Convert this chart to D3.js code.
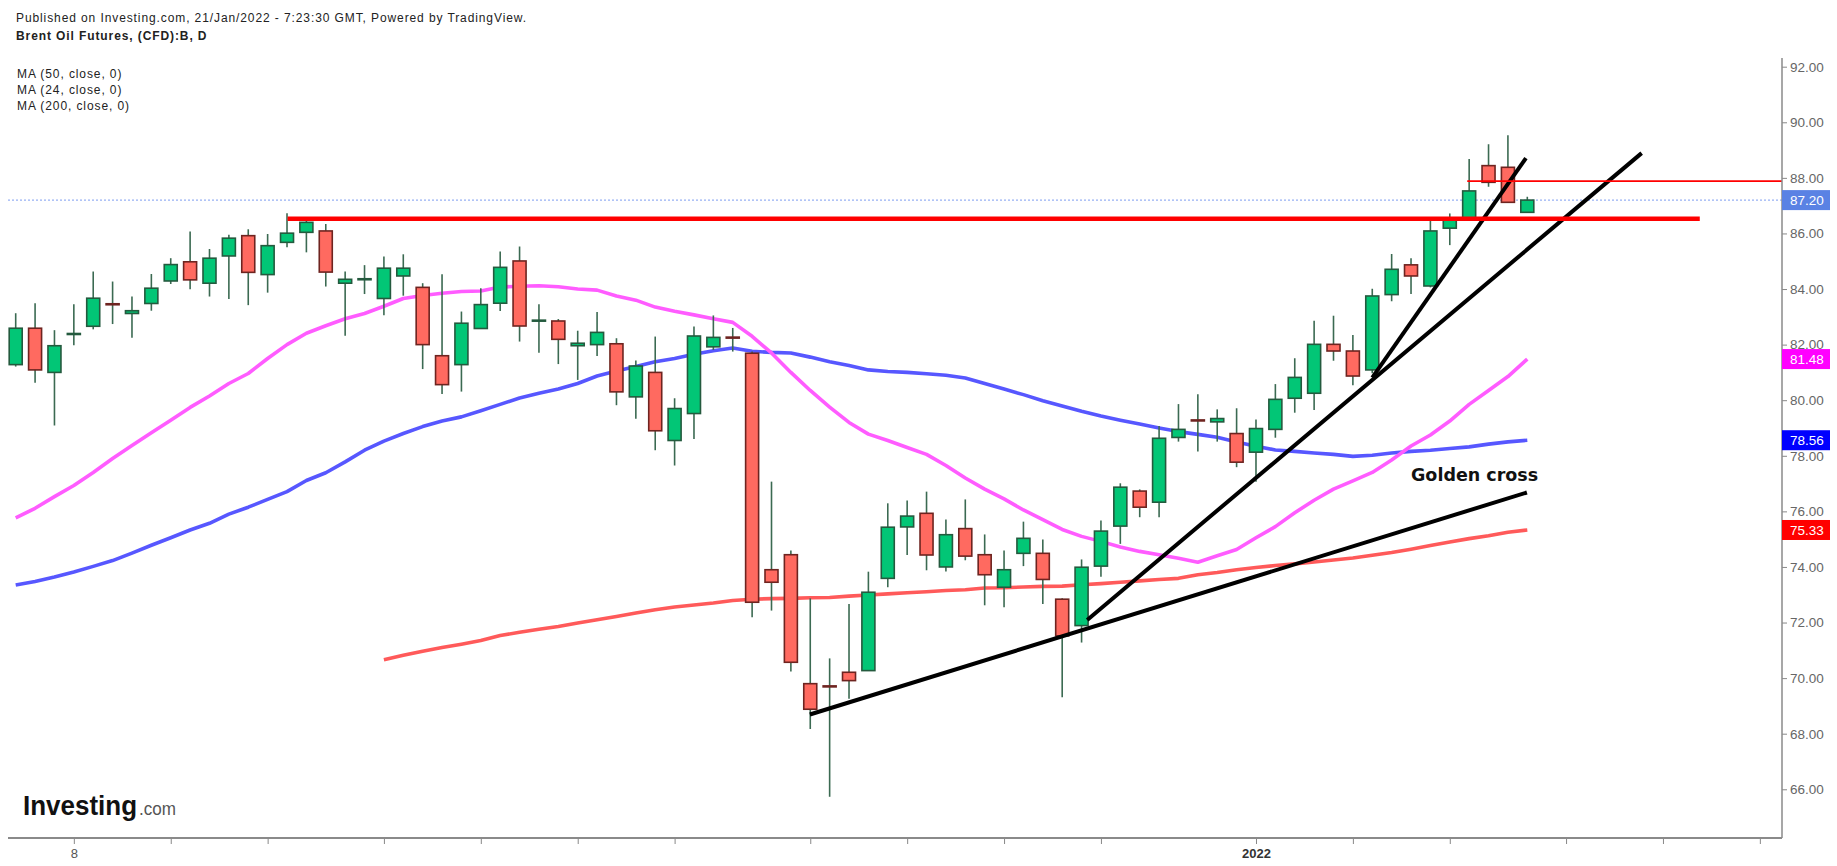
<!DOCTYPE html>
<html>
<head>
<meta charset="utf-8">
<script src="https://cdn.jsdelivr.net/npm/d3@7"></script>
<style>
  body { margin: 0; background: #fff; }
  svg { display: block; font-family: "Liberation Sans", Arial, sans-serif; }
</style>
</head>
<body>
<svg id="chart" width="1837" height="866"></svg>
<script>
// Brent Oil Futures daily candles, index 0..78
const opens = [81.28,82.59,81.00,82.38,82.66,83.47,83.12,83.48,84.29,84.98,
  84.21,85.19,85.92,84.52,85.68,86.04,86.09,84.21,84.35,83.66,
  84.47,84.06,81.60,81.28,82.58,83.49,85.01,82.86,82.85,81.96,
  82.00,82.03,80.12,81.00,78.55,79.52,81.92,82.27,81.69,73.90,
  74.44,69.80,69.72,70.21,70.27,73.59,75.44,75.93,74.00,75.38,
  74.44,73.27,74.49,74.49,72.84,71.89,74.03,75.47,76.73,76.33,
  78.66,79.29,79.22,78.80,78.13,78.95,80.07,80.25,82.01,81.77,
  81.09,83.80,84.87,84.11,86.19,86.49,88.44,88.38,86.76];
const highs = [83.13,83.49,82.52,83.45,84.63,84.27,83.73,84.54,85.11,86.07,
  85.44,85.95,86.15,85.98,86.73,86.52,86.34,84.63,84.86,85.17,
  85.25,84.21,84.53,83.19,84.03,85.35,85.53,83.45,82.92,82.50,
  83.17,82.23,81.43,82.29,80.07,82.65,83.05,82.60,81.75,77.07,
  74.59,72.87,70.71,72.67,73.83,76.29,76.39,76.71,75.71,76.43,
  75.17,74.59,75.63,74.99,72.87,74.27,75.67,77.01,76.79,79.07,
  79.86,80.21,79.67,79.71,79.31,80.58,81.51,82.86,83.04,82.35,
  84.01,85.26,85.11,86.51,86.72,88.68,89.21,89.53,87.32];
const lows = [81.21,80.63,79.09,81.98,82.55,82.74,82.25,83.22,84.18,83.99,
  83.73,83.64,83.42,83.87,85.50,85.32,84.09,82.32,83.82,83.06,
  83.76,81.12,80.22,80.31,82.56,83.21,82.11,81.71,81.30,80.73,
  81.59,79.82,79.33,78.20,77.65,78.60,81.81,81.75,72.19,72.43,
  70.24,68.17,65.73,69.26,70.27,73.27,74.43,73.88,73.84,74.24,
  72.62,72.55,74.03,72.67,69.31,71.28,73.65,74.83,75.79,75.79,
  78.51,78.15,78.51,77.59,77.07,78.65,79.55,79.65,81.42,80.54,
  80.97,83.56,83.82,84.06,85.58,86.49,87.68,87.12,86.76];
const closes = [82.59,81.09,81.96,82.40,83.67,83.44,83.22,84.03,84.88,84.33,
  85.11,85.83,84.60,85.56,86.01,86.40,84.61,84.35,84.37,84.75,
  84.75,82.00,80.56,82.77,83.44,84.78,82.67,82.88,82.19,82.05,
  82.44,80.30,81.23,78.90,79.70,82.31,82.26,82.24,72.73,73.45,
  70.57,68.88,69.69,69.91,73.09,75.43,75.83,74.43,75.16,74.39,
  73.72,73.90,75.03,73.55,71.52,73.99,75.29,76.87,76.15,78.63,
  78.95,79.27,79.34,77.77,78.98,80.03,80.82,82.01,81.77,80.87,
  83.75,84.71,84.47,86.09,86.48,87.53,87.84,87.12,87.20];

// moving averages as drawn on the chart
const ma24 = [75.77,76.11,76.53,76.93,77.40,77.90,78.37,78.83,79.28,79.74,
  80.15,80.60,80.96,81.50,82.00,82.41,82.68,82.93,83.12,83.38,
  83.66,83.77,83.85,83.91,83.93,84.07,84.10,84.12,84.08,84.00,
  83.96,83.75,83.60,83.35,83.20,83.07,82.93,82.80,82.30,81.70,
  81.00,80.35,79.75,79.20,78.78,78.55,78.30,78.05,77.65,77.20,
  76.80,76.45,76.05,75.70,75.35,75.10,74.92,74.72,74.56,74.44,
  74.31,74.17,74.40,74.63,75.05,75.45,75.95,76.40,76.80,77.10,
  77.40,77.85,78.35,78.75,79.25,79.85,80.35,80.85,81.48];
const ma50 = [73.35,73.48,73.64,73.82,74.02,74.23,74.50,74.78,75.05,75.33,
  75.57,75.90,76.15,76.43,76.71,77.11,77.39,77.78,78.20,78.53,
  78.80,79.05,79.25,79.40,79.62,79.85,80.08,80.25,80.40,80.60,
  80.87,81.05,81.21,81.38,81.50,81.65,81.78,81.88,81.76,81.72,
  81.70,81.55,81.38,81.25,81.09,81.03,81.00,80.95,80.90,80.80,
  80.60,80.40,80.20,79.98,79.79,79.60,79.43,79.28,79.14,79.00,
  78.87,78.77,78.67,78.50,78.34,78.21,78.16,78.10,78.05,77.98,
  78.02,78.10,78.16,78.20,78.26,78.32,78.42,78.50,78.56];
const ma200Start = 19;
const ma200 = [70.66,70.82,70.97,71.10,71.22,71.35,71.53,71.65,71.76,71.86,
  71.98,72.10,72.22,72.34,72.46,72.56,72.63,72.70,72.79,72.84,
  72.86,72.87,72.89,72.90,72.95,72.99,73.03,73.07,73.11,73.15,
  73.18,73.24,73.25,73.28,73.30,73.31,73.36,73.40,73.45,73.50,
  73.55,73.59,73.72,73.80,73.90,73.98,74.05,74.11,74.18,74.25,
  74.32,74.42,74.52,74.64,74.77,74.90,75.02,75.12,75.25,75.33];

// hand drawn annotations: [candle index, price]
const trendSteep = [[70.0, 80.81], [77.93, 88.71]];
const trendMid = [[55.29, 72.09], [83.9, 88.89]];
const trendLow = [[40.98, 68.69], [77.98, 76.68]];
const resistance = [[14.03, 86.53], [86.9, 86.53]];
const recentHigh = [[74.9, 87.88], [91.2, 87.88]];

// axes
const yTicks = d3.range(66, 92.01, 2);
const xTickIdx = [3, 8, 13, 19, 24, 29, 34, 41, 46, 51, 56, 64, 69, 74, 80, 85, 90];
const xTickLabels = ["8", "", "", "", "", "", "", "", "", "", "", "2022", "", "", "", "", ""];
const lastPrice = 87.20;
const priceTags = [87.20, 81.48, 78.56, 75.33];

const plotLeft = 8, plotRight = 1782, plotTop = 58, plotBottom = 838;

const x = d3.scaleLinear().domain([0, 78]).range([15.7, 1527.3]);
const y = d3.scaleLinear().domain([68, 92]).range([733.7, 66.7]);

const svg = d3.select("#chart");

svg.append("defs").append("clipPath").attr("id", "plot")
  .append("rect")
    .attr("x", plotLeft).attr("y", plotTop)
    .attr("width", plotRight - plotLeft).attr("height", plotBottom - plotTop);

const g = svg.append("g").attr("clip-path", "url(#plot)");

// last price dotted line
g.append("line")
  .attr("x1", plotLeft).attr("x2", plotRight)
  .attr("y1", y(lastPrice)).attr("y2", y(lastPrice))
  .attr("stroke", "#7d9cf0").attr("stroke-width", 1).attr("stroke-dasharray", "2,2");

// moving averages
const maLine = d3.line().x(d => x(d[0])).y(d => y(d[1]));
const maSeries = [
  { pts: ma50.map((v, i) => [i, v]), color: "#5757ff" },
  { pts: ma24.map((v, i) => [i, v]), color: "#ff5cff" },
  { pts: ma200.map((v, i) => [i + ma200Start, v]), color: "#ff5a5a" }
];
g.selectAll(".ma").data(maSeries).join("path")
  .attr("d", d => maLine(d.pts))
  .attr("fill", "none")
  .attr("stroke", d => d.color)
  .attr("stroke-width", 3.6)
  .attr("stroke-linejoin", "round");

// candles
const candles = opens.map((o, i) => ({ i, o, h: highs[i], l: lows[i], c: closes[i] }));
const bodyW = 13;

g.selectAll(".wick").data(candles).join("line")
  .attr("x1", d => x(d.i)).attr("x2", d => x(d.i))
  .attr("y1", d => y(d.h)).attr("y2", d => y(d.l))
  .attr("stroke", "#3b6a52").attr("stroke-width", 1.6);

g.selectAll(".body").data(candles).join("rect")
  .attr("x", d => x(d.i) - bodyW / 2)
  .attr("width", bodyW)
  .attr("y", d => y(Math.max(d.o, d.c)))
  .attr("height", d => Math.max(1, Math.abs(y(d.o) - y(d.c))))
  .attr("fill", d => d.c >= d.o ? "#02c676" : "#ff6a60")
  .attr("stroke", d => d.c >= d.o ? "#245a3e" : "#6e2420")
  .attr("stroke-width", 1.6);

// trend lines and levels
const seg = d3.line().x(d => x(d[0])).y(d => y(d[1]));
g.selectAll(".trend").data([trendSteep, trendMid, trendLow]).join("path")
  .attr("d", seg)
  .attr("stroke", "#000").attr("stroke-width", 4).attr("fill", "none");

g.append("path").attr("d", seg(resistance))
  .attr("stroke", "#ff0000").attr("stroke-width", 4.5).attr("fill", "none");
g.append("path").attr("d", seg(recentHigh))
  .attr("stroke", "#ff0000").attr("stroke-width", 1.8).attr("fill", "none");

svg.append("text")
  .attr("x", 1411).attr("y", 481)
  .style("font-family", "'DejaVu Sans', Verdana, sans-serif")
  .style("font-weight", "bold").style("font-size", "17.5px")
  .attr("fill", "#111")
  .text("Golden cross");

// price axis
const yAxis = d3.axisRight(y).tickValues(yTicks).tickFormat(d3.format(".2f")).tickSize(5).tickPadding(3);
const ya = svg.append("g").attr("transform", `translate(${plotRight},0)`).call(yAxis);
ya.select(".domain").remove();
ya.selectAll(".tick line").attr("stroke", "#888");
ya.selectAll(".tick text").attr("fill", "#666").style("font-size", "13.5px")
  .style("font-family", "'Liberation Sans', Arial, sans-serif");

svg.append("line")
  .attr("x1", plotRight).attr("x2", plotRight)
  .attr("y1", plotTop).attr("y2", plotBottom)
  .attr("stroke", "#8a8a8a").attr("stroke-width", 1.5);

// last value tags
const tagColors = ["#5a82e4", "#ff00ff", "#0000ff", "#ff0000"];
const tags = svg.selectAll(".tag").data(priceTags).join("g")
  .attr("transform", d => `translate(${plotRight},${y(d)})`);
tags.append("rect")
  .attr("x", 0).attr("y", -10).attr("width", 48).attr("height", 20)
  .attr("fill", (d, k) => tagColors[k]);
tags.append("text")
  .attr("x", 8).attr("dy", "0.36em")
  .attr("fill", "#fff").style("font-size", "13.5px")
  .text(d => d3.format(".2f")(d));

// time axis
const xAxis = d3.axisBottom(x).tickValues(xTickIdx)
  .tickFormat((d, k) => xTickLabels[k]).tickSize(6).tickPadding(5);
const xa = svg.append("g").attr("transform", `translate(0,${plotBottom})`).call(xAxis);
xa.select(".domain").remove();
xa.selectAll(".tick line").attr("stroke", "#888");
xa.selectAll(".tick text")
  .attr("fill", (d, k) => xTickLabels[k] === "2022" ? "#333" : "#555")
  .style("font-weight", (d, k) => xTickLabels[k] === "2022" ? "bold" : "normal")
  .style("font-size", "13px")
  .style("font-family", "'Liberation Sans', Arial, sans-serif");

svg.append("line")
  .attr("x1", plotLeft).attr("x2", plotRight)
  .attr("y1", plotBottom).attr("y2", plotBottom)
  .attr("stroke", "#8a8a8a").attr("stroke-width", 2);

// header
const header = svg.append("g").attr("fill", "#222")
  .style("font-size", "12px").style("letter-spacing", "0.9px");
header.append("text").attr("x", 16).attr("y", 22)
  .text("Published on Investing.com, 21/Jan/2022 - 7:23:30 GMT, Powered by TradingView.");
header.append("text").attr("x", 16).attr("y", 40).style("font-weight", "bold")
  .text("Brent Oil Futures, (CFD):B, D");
["MA (50, close, 0)", "MA (24, close, 0)", "MA (200, close, 0)"].forEach((t, k) => {
  header.append("text").attr("x", 17).attr("y", 78 + k * 16).text(t);
});

// logo
svg.append("text").attr("x", 23).attr("y", 815)
  .style("font-family", "'Liberation Sans Narrow', 'Liberation Sans', Arial, sans-serif")
  .style("font-weight", "bold").style("font-size", "27px")
  .attr("textLength", 114).attr("lengthAdjust", "spacingAndGlyphs")
  .attr("fill", "#111").text("Investing");
svg.append("text").attr("x", 139).attr("y", 815)
  .style("font-family", "'Liberation Sans Narrow', 'Liberation Sans', Arial, sans-serif")
  .style("font-size", "19px")
  .attr("textLength", 37).attr("lengthAdjust", "spacingAndGlyphs")
  .attr("fill", "#555").text(".com");
</script>
</body>
</html>
